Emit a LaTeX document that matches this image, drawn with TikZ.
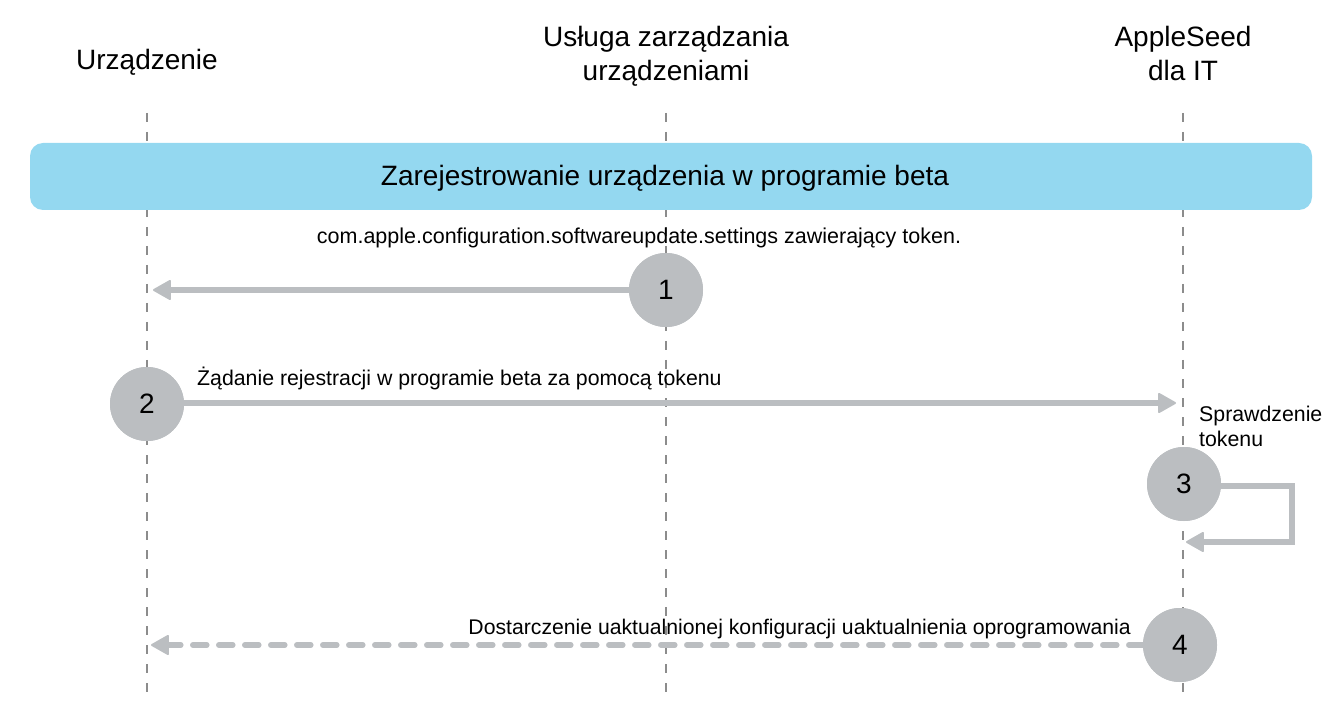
\documentclass[tikz,border=0pt]{standalone}
\usepackage{fontspec}
\setmainfont{Liberation Sans}
\usetikzlibrary{arrows.meta}
\definecolor{lifegray}{HTML}{8C8C8C}
\definecolor{stepgray}{HTML}{BBBEC1}
\definecolor{bannerblue}{HTML}{94D8F0}
\tikzset{
  lifeline/.style={draw=lifegray, line width=1.1pt, dash pattern=on 9pt off 10pt},
  header/.style={anchor=base, inner sep=0pt, font=\fontsize{28}{34}\selectfont},
  label/.style={anchor=base west, inner sep=0pt, font=\fontsize{21.3}{26}\selectfont},
  stepcircle/.style={circle, fill=stepgray, minimum size=74pt, inner sep=0pt, font=\fontsize{28}{34}\selectfont},
  msg/.style={draw=stepgray, line width=5.5pt, -{Triangle[length=19pt,width=21pt,line width=2pt,round]}},
  dashmsg/.style={msg, line cap=round, dash pattern=on 14pt off 12pt},
}
\begin{document}
\begin{tikzpicture}[x=1pt,y=-1pt]
\useasboundingbox (0,0) rectangle (1338,708);
% lifeline end points
\coordinate (l1top) at (147,113);
\coordinate (l1bot) at (147,697);
\coordinate (l2top) at (666,113);
\coordinate (l2bot) at (666,697);
\coordinate (l3top) at (1183,113);
\coordinate (l3bot) at (1183,697);
\draw[lifeline] (l1top) -- (l1bot);
\draw[lifeline] (l2top) -- (l2bot);
\draw[lifeline] (l3top) -- (l3bot);
% headers
\node[header] (h1) at (147,70) {Urządzenie};
\node[header] (h2a) at (666,47) {Usługa zarządzania};
\node[header] (h2b) at (666,81) {urządzeniami};
\node[header] (h3a) at (1183,47) {AppleSeed};
\node[header] (h3b) at (1183,81) {dla IT};
% banner
\fill[bannerblue, rounded corners=13pt] (30,143) rectangle (1312,210);
\node[header] (banner) at (665,186) {Zarejestrowanie urządzenia w programie beta};
% step circles
\node[stepcircle] (c1) at (666,290) {1};
\node[stepcircle] (c2) at (147,404) {2};
\node[stepcircle] (c3) at (1184,484) {3};
\node[stepcircle] (c4) at (1180,645) {4};
% arrow targets
\coordinate (t1) at (153,290);
\coordinate (t2) at (1176,403);
\coordinate (t4) at (151,645);
\coordinate (s3a) at (1292,486);
\coordinate (s3b) at (1292,542);
\coordinate (t3) at (1186,542);
% messages
\draw[msg] (c1.west) -- (t1);
\draw[msg] (c2.east |- t2) -- (t2);
\draw[msg] (c3.east |- s3a) -- (s3a) -- (s3b) -- (t3);
\draw[dashmsg] (c4.west) -- (t4);
% labels
\node[anchor=base, inner sep=0pt, font=\fontsize{21.5}{26}\selectfont] (m1) at (639,244) {com.apple.configuration.softwareupdate.settings zawierający token.};
\node[label] (m2) at (197,385) {Żądanie rejestracji w programie beta za pomocą tokenu};
\node[label] (m3a) at (1199,421) {Sprawdzenie};
\node[label] (m3b) at (1199,446) {tokenu};
\node[anchor=base east, inner sep=0pt, font=\fontsize{21.2}{26}\selectfont] (m4) at (1131,634) {Dostarczenie uaktualnionej konfiguracji uaktualnienia oprogramowania};
% redraw circles on top of arrows
\node[stepcircle] at (c1) {1};
\node[stepcircle] at (c2) {2};
\node[stepcircle] at (c3) {3};
\node[stepcircle] at (c4) {4};
\end{tikzpicture}
\end{document}
